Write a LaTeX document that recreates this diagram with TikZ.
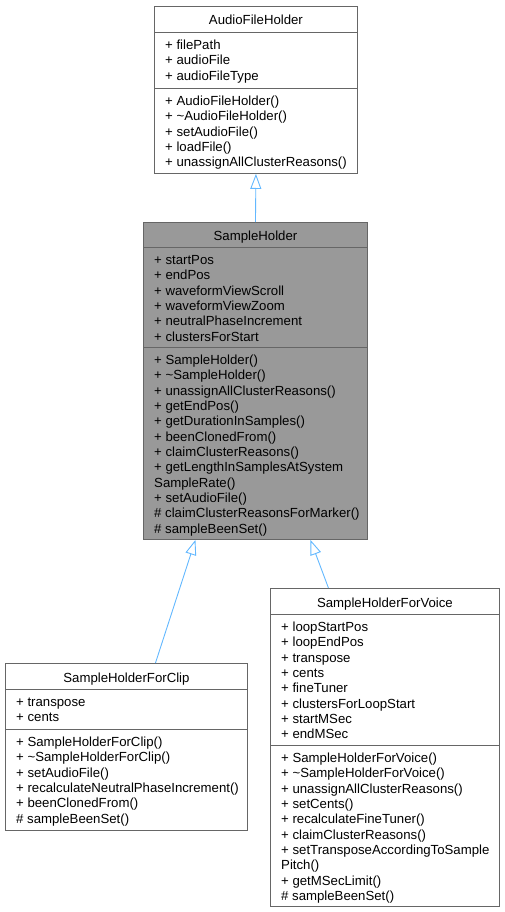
\documentclass[tikz,border=0pt]{standalone}
\usepackage{fontspec}
\setmainfont{Liberation Sans}
\usetikzlibrary{calc,arrows.meta}

\definecolor{boxedge}{HTML}{666666}
\definecolor{boxfill}{HTML}{999999}
\definecolor{linkblue}{HTML}{63B8FF}

\tikzset{
	classbox/.style={draw=boxedge,fill=white,line width=0.9pt,inner sep=0pt,anchor=north west},
	current/.style={classbox,fill=boxfill},
	sepline/.style={draw=boxedge,line width=0.9pt},
	title/.style={anchor=base,inner sep=0pt,font=\fontsize{13.2}{15.33}\selectfont},
	member/.style={anchor=base west,inner sep=0pt,font=\fontsize{13.2}{15.33}\selectfont},
	inherit/.style={draw=linkblue,line width=0.9pt,{Triangle[open,length=15pt,width=11pt]}-}
}

\begin{document}
\begin{tikzpicture}[x=1pt,y=-1pt]
	\useasboundingbox (0,0) rectangle (504,912);
	
	%boxes
	\node[classbox,minimum width=203pt,minimum height=167pt] (audio) at (154,6) {};
	\node[current,minimum width=224pt,minimum height=317pt] (holder) at (143,222) {};
	\node[classbox,minimum width=242pt,minimum height=167pt] (clip) at (5,663) {};
	\node[classbox,minimum width=229pt,minimum height=318pt] (voice) at (270,588) {};
	
	%separators
	\draw[sepline] ($(audio.north west)+(0,26)$) -- ($(audio.north east)+(0,26)$);
	\draw[sepline] ($(audio.north west)+(0,82)$) -- ($(audio.north east)+(0,82)$);
	\draw[sepline] ($(holder.north west)+(0,25)$) -- ($(holder.north east)+(0,25)$);
	\draw[sepline] ($(holder.north west)+(0,125)$) -- ($(holder.north east)+(0,125)$);
	\draw[sepline] ($(clip.north west)+(0,26)$) -- ($(clip.north east)+(0,26)$);
	\draw[sepline] ($(clip.north west)+(0,66)$) -- ($(clip.north east)+(0,66)$);
	\draw[sepline] ($(voice.north west)+(0,26)$) -- ($(voice.north east)+(0,26)$);
	\draw[sepline] ($(voice.north west)+(0,157)$) -- ($(voice.north east)+(0,157)$);
	
	%titles
	\node[title] (audio-t) at ($(audio.north)+(0,19)$) {AudioFileHolder};
	\node[title] (holder-t) at ($(holder.north)+(0,18)$) {SampleHolder};
	\node[title] (clip-t) at ($(clip.north)+(0,19)$) {SampleHolderForClip};
	\node[title] (voice-t) at ($(voice.north)+(0,19)$) {SampleHolderForVoice};
	
	%members
	\foreach \m [count=\i from 0] in {+ filePath, + audioFile, + audioFileType}
		\node[member] (audio-a\i) at ($(audio.north west)+(11,43.5+\i*15.33)$) {\m};
	\foreach \m [count=\i from 0] in {+ AudioFileHolder(), + \textasciitilde AudioFileHolder(), + setAudioFile(), + loadFile(), + unassignAllClusterReasons()}
		\node[member] (audio-o\i) at ($(audio.north west)+(11,99.5+\i*15.33)$) {\m};
	%
	\foreach \m [count=\i from 0] in {+ startPos, + endPos, + waveformViewScroll, + waveformViewZoom, + neutralPhaseIncrement, + clustersForStart}
		\node[member] (holder-a\i) at ($(holder.north west)+(11,42.5+\i*15.33)$) {\m};
	\foreach \m [count=\i from 0] in {+ SampleHolder(), + \textasciitilde SampleHolder(), + unassignAllClusterReasons(), + getEndPos(), + getDurationInSamples(), + beenClonedFrom(), + claimClusterReasons(), + getLengthInSamplesAtSystem, SampleRate(), + setAudioFile(), \# claimClusterReasonsForMarker(), \# sampleBeenSet()}
		\node[member] (holder-o\i) at ($(holder.north west)+(11,142.5+\i*15.33)$) {\m};
	%
	\foreach \m [count=\i from 0] in {+ transpose, + cents}
		\node[member] (clip-a\i) at ($(clip.north west)+(11,43.5+\i*15.33)$) {\m};
	\foreach \m [count=\i from 0] in {+ SampleHolderForClip(), + \textasciitilde SampleHolderForClip(), + setAudioFile(), + recalculateNeutralPhaseIncrement(), + beenClonedFrom(), \# sampleBeenSet()}
		\node[member] (clip-o\i) at ($(clip.north west)+(11,83.5+\i*15.33)$) {\m};
	%
	\foreach \m [count=\i from 0] in {+ loopStartPos, + loopEndPos, + transpose, + cents, + fineTuner, + clustersForLoopStart, + startMSec, + endMSec}
		\node[member] (voice-a\i) at ($(voice.north west)+(11,43.5+\i*15.33)$) {\m};
	\foreach \m [count=\i from 0] in {+ SampleHolderForVoice(), + \textasciitilde SampleHolderForVoice(), + unassignAllClusterReasons(), + setCents(), + recalculateFineTuner(), + claimClusterReasons(), + setTransposeAccordingToSample, Pitch(), + getMSecLimit(), \# sampleBeenSet()}
		\node[member] (voice-o\i) at ($(voice.north west)+(11,174.5+\i*15.33)$) {\m};
	
	%arrows
	\draw[inherit] (audio.south) -- (holder.north);
	\draw[inherit] ($(holder.south)+(-60,0)$) -- ($(clip.north)+(29,0)$);
	\draw[inherit] ($(holder.south)+(55,0)$) -- ($(voice.north)+(-56.5,0)$);
\end{tikzpicture}
\end{document}
